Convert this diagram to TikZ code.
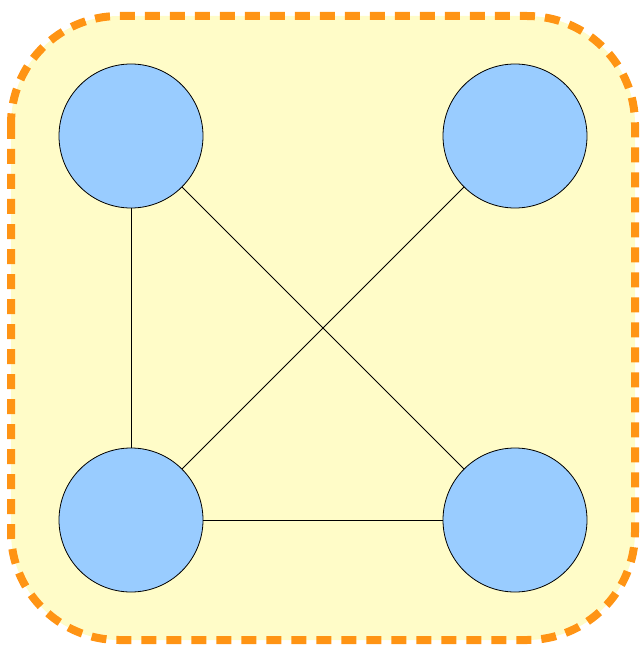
\documentclass[tikz,border=0pt]{standalone}
\usepackage{xcolor}
\usepackage{tikz}
\usetikzlibrary{positioning,backgrounds}

\definecolor{boxfill}{RGB}{255,252,200}
\definecolor{boxline}{RGB}{255,148,20}
\definecolor{nodefill}{RGB}{153,204,255}

\begin{document}
\begin{tikzpicture}[
	x=0.75pt, y=-0.75pt,
	vertex/.style={draw, circle, fill=nodefill, line width=0.6pt, minimum size=108pt, inner sep=0pt},
	link/.style={line width=0.6pt},
	frame/.style={draw=boxline, fill=boxfill, line width=6pt, dash pattern=on 11.25pt off 7.5pt, rounded corners=81pt}
	]
	
	% Page size
	\useasboundingbox (0,0) rectangle (642,645);
	
	% Vertices
	\node[vertex] (tl) at (131,136) {};
	\node[vertex] (tr) at (515,136) {};
	\node[vertex] (bl) at (131,520) {};
	\node[vertex] (br) at (515,520) {};
	
	% Edges
	\draw[link] (tl) -- (bl);
	\draw[link] (tl) -- (br);
	\draw[link] (tr) -- (bl);
	\draw[link] (bl) -- (br);
	
	% Background frame
	\begin{scope}[on background layer]
		\draw[frame] (11,16) rectangle (635,640);
	\end{scope}
	
\end{tikzpicture}
\end{document}
